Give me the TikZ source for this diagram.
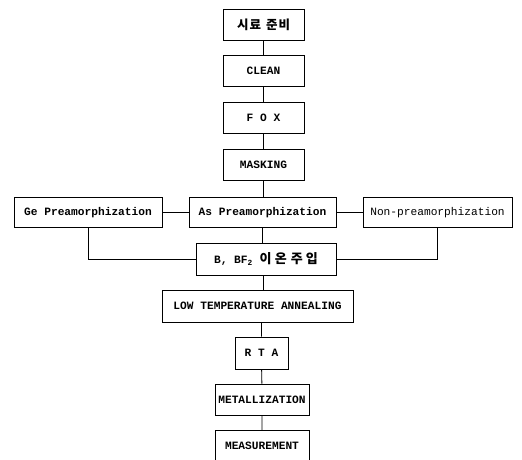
\documentclass[tikz,border=0pt]{standalone}
\usepackage{fontspec}
\setmainfont{Liberation Mono}
\newfontfamily\kr{Noto Sans CJK KR}[LetterSpace=8]
\newfontfamily\krwide{Noto Sans CJK KR}[LetterSpace=25]
\begin{document}
\begin{tikzpicture}[x=1pt,y=-1pt,
  box/.style={draw,line width=0.7pt,inner sep=0pt,minimum height=31pt,font=\fontsize{11.2}{13}\selectfont\bfseries},
  link/.style={line width=0.9pt}]
  \useasboundingbox (0,0) rectangle (522,460);
  \node[box,minimum width=81pt] (prep) at (263.5, 24.5) {\kr\fontsize{12.5}{14}\selectfont 시료\hspace{5pt}준비};
  \node[box,minimum width=81pt] (clean) at (263.5, 71) {CLEAN};
  \node[box,minimum width=81pt] (fox) at (263.5, 118) {F O X};
  \node[box,minimum width=81pt] (mask) at (263.5, 165) {MASKING};
  \node[box,minimum width=147pt,minimum height=30pt] (as) at (262.5, 212.5) {As Preamorphization};
  \node[box,minimum width=148pt,minimum height=30pt] (ge) at (88, 212.5) {Ge Preamorphization};
  \node[box,minimum width=149pt,minimum height=30pt,font=\fontsize{11.2}{13}\selectfont] (non) at (437.5, 212.5) {Non-preamorphization};
  \node[box,minimum width=140pt,minimum height=32pt] (ion) at (266, 259) {B, BF\textsubscript{2} {\krwide\fontsize{13}{15}\selectfont 이온\hspace{4pt}주입}};
  \node[box,minimum width=191pt,minimum height=32pt] (anneal) at (257.5, 306) {LOW TEMPERATURE ANNEALING};
  \node[box,minimum width=53pt,minimum height=32pt] (rta) at (261.5, 353) {R T A};
  \node[box,minimum width=94pt] (metal) at (262, 399.5) {METALLIZATION};
  \node[box,minimum width=94pt] (meas) at (262, 446) {MEASUREMENT};

  \draw[link] (prep) -- (clean) -- (fox) -- (mask) -- (mask |- as.north);
  \draw[link] (ge) -- (as) -- (non);
  \draw[link] (as.south) -- (as.south |- ion.north);
  \draw[link] (ge.south) -- (ge.south |- ion.west) -- (ion.west);
  \draw[link] (non.south) -- (non.south |- ion.east) -- (ion.east);
  \draw[link] (ion.south -| mask) -- (mask |- anneal.north);
  \draw[link] (rta |- anneal.south) -- (rta) -- (metal) -- (meas);
\end{tikzpicture}
\end{document}
